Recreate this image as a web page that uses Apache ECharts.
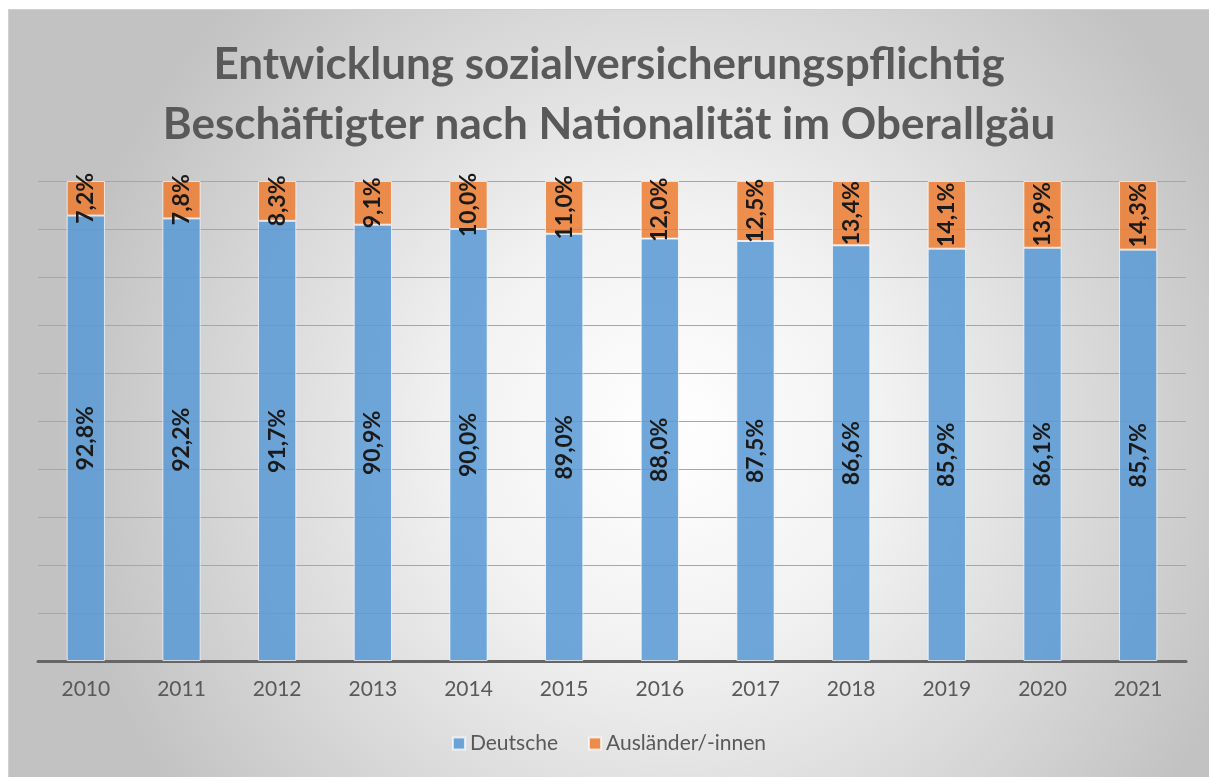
<!DOCTYPE html>
<html><head><meta charset="utf-8">
<script src="https://cdn.jsdelivr.net/npm/echarts@6/dist/echarts.min.js"></script>
<style>
html,body{margin:0;padding:0;background:#fff;width:1209px;height:777px;overflow:hidden;}
#c{position:absolute;left:8px;top:9px;width:1201px;height:768px;box-sizing:border-box;border-left:1px solid #d0d0d0;border-top:1px solid #d0d0d0;}
</style></head>
<body><div id="c"></div>
<script>
const years = ['2010','2011','2012','2013','2014','2015','2016','2017','2018','2019','2020','2021'];
const deutsche = [92.8, 92.2, 91.7, 90.9, 90.0, 89.0, 88.0, 87.5, 86.6, 85.9, 86.1, 85.7];
const auslaender = [7.2, 7.8, 8.3, 9.1, 10.0, 11.0, 12.0, 12.5, 13.4, 14.1, 13.9, 14.3];
const titleText = 'Entwicklung sozialversicherungspflichtig\nBeschäftigter nach Nationalität im Oberallgäu';

const fmt = p => p.value.toFixed(1).replace('.', ',') + '%';
const FONT = 'Lato';
const chart = echarts.init(document.getElementById('c'));
const labelStyle = {show:true, position:'inside', rotate:90, formatter:fmt, color:'#1a1a1a', fontWeight:'bold', fontSize:23, fontFamily:FONT};
chart.setOption({
  backgroundColor: {type:'radial', x:0.55, y:0.55, r:0.8, colorStops:[{offset:0,color:'#ffffff'},{offset:0.35,color:'#f2f2f2'},{offset:1,color:'#c2c2c2'}]},
  title: {text:titleText, left:'center', top:20, textStyle:{fontFamily:FONT, fontWeight:'bold', fontSize:44, color:'#595959', lineHeight:60}},
  legend: {bottom:18, left:'center', itemWidth:12, itemHeight:12, itemGap:30, icon:'rect',
    textStyle:{fontFamily:FONT, fontSize:21, color:'#595959'}, data:['Deutsche','Ausländer/-innen']},
  grid: {left:29, right:23, top:171, bottom:116},
  xAxis: {type:'category', data:years, axisTick:{show:false},
    axisLine:{lineStyle:{color:'#666666', width:3}},
    axisLabel:{fontFamily:FONT, fontSize:21, color:'#595959', margin:18}},
  yAxis: {type:'value', min:0, max:100, interval:10, axisLabel:{show:false}, axisLine:{show:false}, axisTick:{show:false},
    splitLine:{lineStyle:{color:'#a6a6a6', width:1}}},
  series: [
    {name:'Deutsche', type:'bar', stack:'s', data:deutsche, barWidth:'40%',
      itemStyle:{color:'rgba(91,155,213,0.88)', borderColor:'rgba(255,255,255,0.7)', borderWidth:1},
      label:labelStyle},
    {name:'Ausländer/-innen', type:'bar', stack:'s', data:auslaender, barWidth:'40%',
      itemStyle:{color:'rgba(237,125,49,0.85)', borderColor:'rgba(255,255,255,0.7)', borderWidth:1},
      label:labelStyle}
  ]
});
</script></body></html>
